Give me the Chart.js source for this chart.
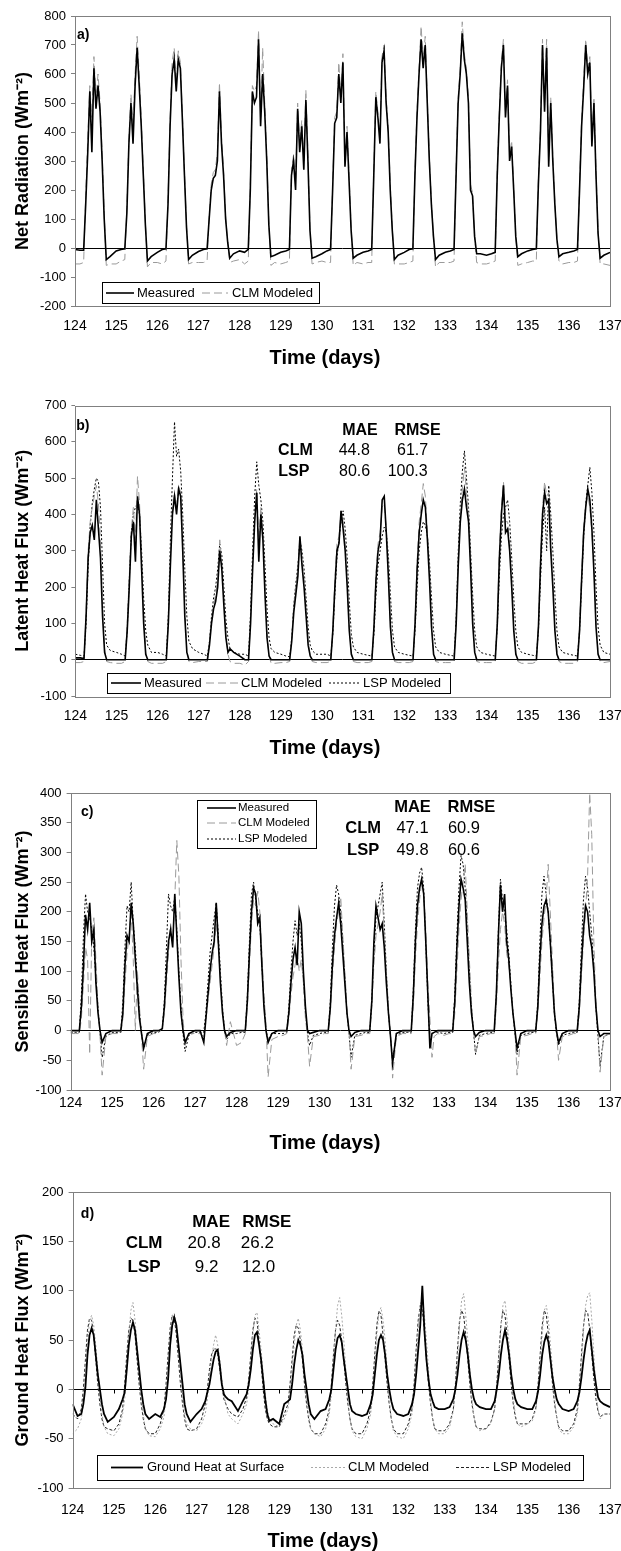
<!DOCTYPE html>
<html>
<head>
<meta charset="utf-8">
<script src="https://cdn.jsdelivr.net/npm/chart.js@4.4.1/dist/chart.umd.min.js"></script>
<style>
  html, body { margin: 0; padding: 0; background: #fff; }
  body { width: 621px; height: 1551px; position: relative; overflow: hidden; }
  .panel { position: absolute; left: 0; width: 621px; }
</style>
</head>
<body>
<div class="panel" style="top:0;height:375px"><canvas id="chartA"></canvas></div>
<div class="panel" style="top:385px;height:385px"><canvas id="chartB"></canvas></div>
<div class="panel" style="top:775px;height:385px"><canvas id="chartC"></canvas></div>
<div class="panel" style="top:1170px;height:381px"><canvas id="chartD"></canvas></div>
<script>
// sampling: each day 124..136, same offsets within the day, plus the end point 137
const days = [124, 125, 126, 127, 128, 129, 130, 131, 132, 133, 134, 135, 136]
const dayOffsets = [0, 0.12, 0.21, 0.26, 0.31, 0.36, 0.41, 0.46, 0.51, 0.56, 0.61, 0.66, 0.71, 0.76, 0.85]
const time = []
days.forEach(d => dayOffsets.forEach(o => time.push(Math.round((d + o) * 100) / 100)))
time.push(137)

// a) Net radiation
const netMeasured = [
  -5,-8,-8,150,330,540,330,620,480,560,470,300,100,-40,-30,
  -10,-5,-3,120,360,500,360,560,690,560,420,250,80,-45,-30,
  -15,-5,-3,150,420,600,650,540,650,620,440,250,70,-40,-25,
  -12,-5,-3,100,200,240,250,300,540,360,250,100,20,-35,-20,
  -10,-15,-5,200,540,500,520,720,420,600,470,300,80,-30,-25,
  -15,-10,-5,250,300,200,480,330,420,270,510,300,60,-35,-30,
  -20,-10,-5,200,430,450,600,500,640,280,400,230,60,-35,-25,
  -15,-10,-5,250,520,450,360,640,680,500,400,200,60,-40,-25,
  -15,-5,-3,250,450,600,720,620,700,500,300,150,40,-40,-25,
  -15,-10,-5,250,500,600,740,650,600,500,200,180,40,-20,-20,
  -25,-20,-15,250,450,620,700,450,560,300,350,200,40,-30,-20,
  -10,-5,-3,220,400,700,470,690,280,500,300,150,30,-30,-20,
  -15,-10,-5,200,420,550,700,600,640,350,500,250,50,-35,-25,
  -15]
const netCLM = [
  -55,-55,-50,180,380,560,450,660,520,600,500,330,120,-60,-55,
  -55,-45,-40,140,380,530,420,600,730,600,450,270,90,-65,-50,
  -50,-55,-45,170,440,640,690,570,680,640,460,260,80,-55,-50,
  -50,-50,-45,110,220,260,270,330,570,380,270,110,20,-50,-45,
  -40,-55,-45,220,560,540,560,750,450,690,500,320,90,-60,-50,
  -55,-50,-45,270,320,230,500,360,440,300,545,330,70,-55,-50,
  -45,-50,-50,220,450,470,640,520,670,300,420,250,70,-60,-50,
  -55,-50,-50,270,540,470,380,660,700,520,420,220,70,-55,-55,
  -55,-50,-45,270,470,620,765,650,730,520,320,160,40,-65,-50,
  -50,-50,-45,270,520,620,780,670,620,520,220,190,40,-50,-55,
  -55,-50,-45,270,470,640,720,470,580,320,370,210,40,-60,-55,
  -50,-45,-45,240,420,720,490,720,300,520,320,160,30,-45,-55,
  -50,-50,-45,220,440,580,720,620,660,370,520,270,60,-55,-55,
  -60]

// b) Latent heat flux
const latMeasured = [
  5,5,3,120,280,350,370,330,440,360,280,120,20,0,0,
  0,0,0,80,200,340,380,270,450,400,250,100,15,0,0,
  0,0,0,100,260,400,450,400,470,450,300,120,20,0,0,
  0,0,0,40,100,140,160,200,300,250,150,60,20,30,20,
  10,0,0,100,250,380,460,270,400,330,180,60,10,0,0,
  0,0,0,50,130,180,230,340,260,200,120,40,10,0,0,
  0,0,0,80,200,300,320,410,360,300,200,80,15,0,0,
  0,0,0,90,220,300,330,440,450,350,230,90,20,0,0,
  0,0,0,100,250,350,400,440,420,330,220,90,15,0,0,
  0,0,0,100,260,380,440,470,420,380,250,100,20,0,0,
  0,0,0,100,280,400,480,350,360,300,200,80,15,0,0,
  0,0,0,90,260,400,460,430,440,300,200,80,15,0,0,
  0,0,0,80,220,350,420,470,440,360,240,90,15,0,0,
  0]
const latCLM = [
  -8,-8,-5,130,300,380,420,450,480,430,330,150,30,-5,-8,
  -10,-10,-5,100,230,360,420,330,505,430,280,120,20,-5,-10,
  -10,-10,-5,110,280,420,460,420,480,460,320,140,25,-5,-8,
  -5,-5,-5,50,110,150,180,220,330,270,170,70,15,-5,-10,
  -10,-15,-5,110,270,400,470,330,420,350,200,70,10,-10,-10,
  -8,-8,-5,60,150,200,250,340,280,220,140,50,10,-5,-8,
  -8,-8,-5,90,220,320,340,410,380,320,220,90,20,-5,-8,
  -8,-8,-5,100,240,320,350,420,430,360,250,100,20,-5,-8,
  -8,-8,-5,110,270,380,430,485,450,350,240,100,20,-5,-8,
  -8,-8,-5,110,280,400,470,530,460,400,270,110,20,-5,-8,
  -8,-8,-5,110,300,420,490,380,380,320,220,90,20,-5,-10,
  -10,-10,-5,100,280,420,490,450,460,320,220,90,20,-5,-10,
  -10,-10,-5,90,240,370,430,450,420,350,250,100,20,-5,-8,
  -5]
const latLSP = [
  15,12,10,100,260,370,430,470,500,490,420,260,100,40,25,
  20,15,10,80,220,350,400,420,430,400,300,170,80,40,20,
  20,15,10,120,330,500,655,560,580,520,400,250,120,50,30,
  20,15,10,50,120,170,200,250,320,290,200,110,60,30,20,
  15,15,10,130,300,450,545,480,440,380,260,140,60,30,20,
  15,10,8,60,150,210,260,330,300,250,170,90,40,25,15,
  15,15,10,70,180,280,330,380,410,360,280,160,70,35,20,
  15,12,10,70,180,260,300,340,365,350,290,180,80,35,20,
  15,12,10,80,200,300,350,380,370,340,270,170,80,35,20,
  15,12,10,120,300,430,520,575,500,420,300,180,80,35,20,
  15,12,10,90,230,340,400,420,440,380,280,170,80,35,20,
  15,12,10,80,220,350,420,300,480,400,300,180,80,35,20,
  15,12,10,80,210,340,430,480,530,460,350,200,90,40,20,
  15]

// c) Sensible heat flux
const senMeasured = [
  0,0,0,40,110,195,170,215,150,170,80,30,0,-20,-5,
  0,0,0,30,110,160,150,215,180,120,70,20,-5,-30,-5,
  0,0,3,40,100,150,170,140,230,160,90,30,0,-20,-5,
  0,0,-20,20,60,100,130,150,215,150,80,30,0,-10,-3,
  0,0,0,50,130,200,240,230,180,190,110,40,0,-20,-5,
  0,0,0,30,80,120,140,110,200,180,100,40,0,-5,-3,
  0,0,0,40,110,160,190,215,180,130,80,30,0,-10,-3,
  0,0,0,50,150,210,190,170,180,140,80,30,-10,-55,-5,
  0,0,0,60,150,210,240,255,230,150,60,-30,-5,-3,0,
  0,0,0,50,140,210,255,240,220,150,80,30,0,-10,-3,
  0,0,0,60,160,245,200,230,150,120,70,30,0,-30,-5,
  0,0,0,40,120,180,210,220,200,150,90,30,0,-20,-5,
  0,0,0,40,110,170,210,200,160,140,100,40,0,-10,-5,
  -5]
const senCLM = [
  -5,-5,-5,20,80,140,120,-40,160,190,120,40,-10,-75,-10,
  -5,-5,-5,20,80,130,160,200,120,0,100,40,-10,-65,-10,
  -5,-5,5,30,80,130,180,150,220,320,260,120,20,-25,-5,
  -5,-5,-10,15,50,80,110,140,180,140,90,40,0,-25,15,
  -25,-20,-5,40,110,180,220,210,235,200,130,60,10,-78,-15,
  -10,-8,-5,20,60,90,110,130,100,120,80,20,-10,-60,-10,
  -8,-5,-5,30,90,140,180,200,225,160,100,40,0,-65,-10,
  -8,-5,-5,40,110,160,180,200,230,160,100,40,0,-80,-10,
  -5,-5,-5,40,120,180,220,250,230,170,80,20,-45,-10,-5,
  -8,-5,-5,30,100,170,220,250,280,200,120,50,0,-40,-10,
  -8,-5,-5,40,110,170,200,180,130,110,80,30,0,-75,-10,
  -8,-5,-5,30,90,150,190,220,280,200,120,40,0,-50,-10,
  -8,-5,-5,30,90,150,200,260,400,330,150,50,0,-70,-10,
  -5]
const senLSP = [
  -3,-3,-3,60,160,230,200,190,170,140,90,40,-5,-45,-10,
  -3,-3,-3,50,140,210,200,250,180,140,80,30,-5,-30,-8,
  -3,-3,3,50,140,230,210,200,225,170,100,40,-5,-35,-8,
  -3,-3,-3,30,80,130,160,190,215,160,100,40,0,-15,-5,
  -5,-3,-3,60,150,230,250,220,200,180,110,50,0,-15,-5,
  -5,-5,-3,40,100,150,185,160,180,150,90,30,-5,-25,-8,
  -5,-3,-3,50,140,210,245,230,200,150,90,30,-5,-45,-8,
  -5,-3,-3,50,130,190,210,230,250,180,100,30,-10,-50,-8,
  -3,-3,-3,70,170,240,265,275,240,150,50,-20,-5,-3,-3,
  -5,-3,-3,60,160,240,295,280,240,170,100,40,0,-40,-8,
  -5,-3,-3,60,170,255,220,200,170,130,80,30,-5,-40,-8,
  -5,-3,-3,50,150,230,260,230,200,150,90,30,-5,-25,-8,
  -5,-3,-3,50,140,220,260,240,200,160,110,40,-10,-60,-10,
  -5]

// d) Ground heat flux
const grdMeasured = [
  -15,-27,-25,-15,2,35,55,62,55,35,15,0,-15,-25,-33,
  -28,-20,-10,-3,20,45,60,68,60,40,20,0,-15,-25,-30,
  -25,-28,-20,-10,10,45,65,73,65,45,25,5,-15,-25,-33,
  -25,-20,-12,-3,5,18,30,38,40,25,5,-5,-8,-10,-12,
  -22,-12,-5,5,20,40,55,58,45,30,10,-10,-25,-32,-30,
  -35,-15,-12,-10,5,25,40,50,45,35,15,0,-15,-25,-30,
  -22,-20,-10,0,20,40,52,55,48,30,15,0,-15,-22,-25,
  -27,-25,-15,-5,15,35,50,55,50,35,15,0,-12,-20,-25,
  -27,-25,-15,-5,15,40,65,105,60,30,10,-5,-12,-18,-20,
  -20,-18,-10,0,15,35,50,58,50,35,15,0,-10,-15,-18,
  -20,-20,-12,0,15,35,50,60,50,35,15,0,-10,-15,-18,
  -20,-20,-12,-2,15,35,48,55,48,30,12,0,-10,-15,-20,
  -22,-20,-12,-3,12,30,45,55,60,40,20,5,-8,-12,-15,
  -18]
const grdCLM = [
  -45,-40,-30,-15,10,45,70,75,65,45,20,-5,-25,-38,-45,
  -47,-40,-25,-10,20,55,80,88,70,45,20,-5,-25,-40,-47,
  -48,-40,-28,-10,20,55,75,77,65,45,20,-5,-25,-35,-40,
  -42,-35,-25,-10,10,30,45,55,45,30,10,-5,-15,-25,-30,
  -35,-25,-15,0,25,55,75,78,60,40,15,-5,-20,-30,-35,
  -38,-30,-20,-5,20,45,65,72,60,40,15,-10,-25,-40,-45,
  -48,-40,-25,-5,25,60,85,93,75,50,20,-10,-30,-42,-48,
  -50,-40,-25,-5,25,55,78,83,70,50,20,-10,-30,-42,-48,
  -50,-40,-25,-5,25,60,85,95,75,50,20,-10,-30,-40,-45,
  -45,-38,-22,0,30,65,90,97,75,50,20,-10,-28,-38,-42,
  -40,-35,-20,0,30,60,85,90,70,45,20,-10,-25,-35,-38,
  -35,-32,-20,0,25,55,80,85,70,45,20,-10,-28,-40,-45,
  -45,-38,-25,-5,25,60,85,95,98,70,35,0,-20,-30,-25,
  -25]
const grdLSP = [
  -25,-30,-20,0,30,60,72,70,55,30,5,-15,-30,-38,-40,
  -42,-35,-20,5,35,60,72,70,55,30,5,-15,-30,-40,-45,
  -45,-35,-20,5,35,62,75,72,55,30,5,-15,-30,-40,-42,
  -40,-30,-15,0,20,35,40,42,35,20,5,-10,-15,-20,-25,
  -28,-20,-8,10,35,60,72,70,50,25,0,-20,-30,-35,-38,
  -38,-25,-15,5,30,55,65,62,50,30,5,-15,-30,-40,-45,
  -45,-35,-20,5,35,60,70,65,50,30,5,-15,-30,-40,-45,
  -45,-35,-20,5,35,65,80,75,55,30,5,-15,-30,-40,-45,
  -45,-35,-20,5,40,70,85,80,60,30,5,-15,-30,-40,-42,
  -42,-35,-20,5,40,70,80,75,55,30,5,-15,-28,-38,-40,
  -40,-33,-20,5,35,65,80,75,55,30,5,-15,-28,-35,-35,
  -35,-30,-18,5,35,65,80,75,55,30,5,-15,-28,-38,-42,
  -42,-35,-20,5,35,65,80,78,60,35,10,-10,-22,-28,-25,
  -25]

const FONT = "'Liberation Sans', Arial, sans-serif"
Chart.defaults.font.family = FONT
Chart.defaults.color = '#000'

const pts = ys => ys.map((y, i) => ({ x: time[i], y: y }))

// frame, panel letter, stats table, legend box and x title
const deco = {
  id: 'deco',
  afterDraw(chart, args, o) {
    const { ctx, chartArea: a, scales } = chart
    ctx.save()
    ctx.strokeStyle = '#808080'
    ctx.lineWidth = 1
    ctx.setLineDash([])
    ctx.strokeRect(Math.round(a.left) + 0.5, Math.round(a.top) + 0.5, Math.round(a.right - a.left), Math.round(a.bottom - a.top))

    // day tick marks on the zero line (panel d)
    if (o.zeroTicks) {
      const y0 = Math.round(scales.y.getPixelForValue(0)) + 0.5
      ctx.strokeStyle = '#000'
      ctx.beginPath()
      days.slice(1).forEach(d => {
        const x = Math.round(scales.x.getPixelForValue(d)) + 0.5
        ctx.moveTo(x, y0)
        ctx.lineTo(x, y0 + 4)
      })
      ctx.stroke()
    }

    ctx.fillStyle = '#000'
    ctx.textBaseline = 'middle'
    o.texts.forEach(t => {
      ctx.font = (t.bold ? 'bold ' : '') + t.size + 'px ' + FONT
      ctx.textAlign = t.align || 'center'
      ctx.fillText(t.t, scales.x.getPixelForValue(t.x), scales.y.getPixelForValue(t.y))
    })

    const lg = o.legend
    ctx.fillStyle = '#fff'
    ctx.fillRect(lg.box[0], lg.box[1], lg.box[2], lg.box[3])
    ctx.strokeStyle = '#000'
    ctx.strokeRect(lg.box[0] + 0.5, lg.box[1] + 0.5, lg.box[2], lg.box[3])
    ctx.font = lg.size + 'px ' + FONT
    ctx.textAlign = 'left'
    lg.items.forEach(it => {
      const ds = chart.data.datasets[it.ds]
      ctx.strokeStyle = ds.borderColor
      ctx.lineWidth = ds.borderWidth
      ctx.setLineDash(ds.borderDash || [])
      ctx.beginPath()
      ctx.moveTo(it.x1, it.y)
      ctx.lineTo(it.x2, it.y)
      ctx.stroke()
      ctx.fillStyle = '#000'
      ctx.fillText(ds.label, it.tx, it.y)
    })

    ctx.setLineDash([])
    ctx.font = 'bold 20px ' + FONT
    ctx.textAlign = 'center'
    ctx.fillText('Time (days)', o.titleX, a.bottom + o.titleDy)
    ctx.restore()
  }
}

function makeChart(id, p) {
  return new Chart(document.getElementById(id), {
    type: 'line',
    data: {
      datasets: p.series.map(s => ({
        label: s.label,
        data: pts(s.values),
        borderColor: s.color,
        borderWidth: s.width,
        borderDash: s.dash,
        pointRadius: 0,
        tension: 0,
        fill: false
      }))
    },
    options: {
      responsive: true,
      maintainAspectRatio: false,
      animation: false,
      layout: { padding: { top: p.padTop, right: 11, left: 0, bottom: 0 } },
      plugins: { legend: { display: false }, tooltip: { enabled: false }, deco: p.deco },
      scales: {
        x: {
          type: 'linear', min: 124, max: 137,
          ticks: { stepSize: 1, autoSkip: false, maxRotation: 0, padding: p.xPad, font: { size: 14 } },
          grid: { display: false, drawTicks: false },
          border: { display: false },
          afterFit: s => { s.height = p.xHeight; s.paddingLeft = 0; s.paddingRight = 0 }
        },
        y: {
          min: p.yMin, max: p.yMax,
          ticks: { stepSize: p.yStep, padding: 5, font: { size: 13 } },
          grid: {
            drawTicks: true, tickLength: 4, tickColor: '#808080',
            color: c => c.tick && c.tick.value === 0 ? '#000' : 'rgba(0,0,0,0)'
          },
          border: { display: false },
          title: { display: true, text: p.yTitle, font: { size: 18, weight: 'bold' }, padding: { top: 12, bottom: 0 } },
          afterFit: s => { s.width = p.yWidth; s.paddingTop = 0; s.paddingBottom = 0 }
        }
      }
    },
    plugins: [deco]
  })
}

const MEAS = { color: '#000', width: 1.6, dash: [] }
const CLMs = { color: '#9a9a9a', width: 1, dash: [8, 4] }
const LSPs = { color: '#000', width: 1, dash: [2, 2] }

makeChart('chartA', {
  padTop: 16, yWidth: 75, xHeight: 69, xPad: 12,
  yMin: -200, yMax: 800, yStep: 100, yTitle: 'Net Radiation (Wm⁻²)',
  series: [
    { label: 'Measured', values: netMeasured, ...MEAS },
    { label: 'CLM Modeled', values: netCLM, ...CLMs }
  ],
  deco: {
    titleX: 325, titleDy: 52,
    texts: [{ t: 'a)', x: 124.05, y: 734, bold: true, size: 14, align: 'left' }],
    legend: {
      box: [102, 282, 217, 21], size: 13,
      items: [{ ds: 0, x1: 106, x2: 134, tx: 137, y: 293 }, { ds: 1, x1: 202, x2: 228, tx: 232, y: 293 }]
    }
  }
})

makeChart('chartB', {
  padTop: 20.5, yWidth: 75.4, xHeight: 74, xPad: 11.5,
  yMin: -100, yMax: 700, yStep: 100, yTitle: 'Latent Heat Flux (Wm⁻²)',
  series: [
    { label: 'Measured', values: latMeasured, ...MEAS },
    { label: 'CLM Modeled', values: latCLM, ...CLMs },
    { label: 'LSP Modeled', values: latLSP, ...LSPs }
  ],
  deco: {
    titleX: 325, titleDy: 52,
    texts: [
      { t: 'b)', x: 124.02, y: 644, bold: true, size: 14, align: 'left' },
      { t: 'MAE', x: 130.92, y: 632, bold: true, size: 16 },
      { t: 'RMSE', x: 132.32, y: 632, bold: true, size: 16 },
      { t: 'CLM', x: 129.35, y: 577, bold: true, size: 16 },
      { t: '44.8', x: 130.78, y: 577, size: 16 },
      { t: '61.7', x: 132.2, y: 577, size: 16 },
      { t: 'LSP', x: 129.31, y: 518, bold: true, size: 16 },
      { t: '80.6', x: 130.79, y: 518, size: 16 },
      { t: '100.3', x: 132.08, y: 518, size: 16 }
    ],
    legend: {
      box: [107, 288, 343, 20], size: 13,
      items: [
        { ds: 0, x1: 111, x2: 141, tx: 144, y: 298 },
        { ds: 1, x1: 206, x2: 238, tx: 241, y: 298 },
        { ds: 2, x1: 329, x2: 359, tx: 363, y: 298 }
      ]
    }
  }
})

makeChart('chartC', {
  padTop: 18, yWidth: 70.6, xHeight: 70, xPad: 4.5,
  yMin: -100, yMax: 400, yStep: 50, yTitle: 'Sensible Heat Flux (Wm⁻²)',
  series: [
    { label: 'Measured', values: senMeasured, ...MEAS },
    { label: 'CLM Modeled', values: senCLM, ...CLMs },
    { label: 'LSP Modeled', values: senLSP, ...LSPs }
  ],
  deco: {
    titleX: 325, titleDy: 53,
    texts: [
      { t: 'c)', x: 124.25, y: 368, bold: true, size: 14, align: 'left' },
      { t: 'MAE', x: 132.24, y: 376, bold: true, size: 16.5 },
      { t: 'RMSE', x: 133.66, y: 376, bold: true, size: 16.5 },
      { t: 'CLM', x: 131.05, y: 341, bold: true, size: 16.5 },
      { t: '47.1', x: 132.24, y: 341, size: 16.5 },
      { t: '60.9', x: 133.48, y: 341, size: 16.5 },
      { t: 'LSP', x: 131.05, y: 304, bold: true, size: 16.5 },
      { t: '49.8', x: 132.24, y: 304, size: 16.5 },
      { t: '60.6', x: 133.48, y: 304, size: 16.5 }
    ],
    legend: {
      box: [197, 25, 119, 48], size: 11.5,
      items: [
        { ds: 0, x1: 207, x2: 236, tx: 238, y: 33 },
        { ds: 1, x1: 207, x2: 236, tx: 238, y: 48 },
        { ds: 2, x1: 207, x2: 236, tx: 238, y: 64 }
      ]
    }
  }
})

makeChart('chartD', {
  padTop: 22, yWidth: 72.6, xHeight: 63, xPad: 13.5,
  yMin: -100, yMax: 200, yStep: 50, yTitle: 'Ground Heat Flux (Wm⁻²)',
  series: [
    { label: 'Ground Heat at Surface', values: grdMeasured, color: '#000', width: 1.8, dash: [] },
    { label: 'CLM Modeled', values: grdCLM, color: '#a8a8a8', width: 1, dash: [2, 2] },
    { label: 'LSP Modeled', values: grdLSP, color: '#222', width: 1, dash: [3, 2] }
  ],
  deco: {
    titleX: 323, titleDy: 53, zeroTicks: true,
    texts: [
      { t: 'd)', x: 124.2, y: 177.7, bold: true, size: 14, align: 'left' },
      { t: 'MAE', x: 127.35, y: 169.6, bold: true, size: 17 },
      { t: 'RMSE', x: 128.7, y: 169.6, bold: true, size: 17 },
      { t: 'CLM', x: 125.73, y: 148.3, bold: true, size: 17 },
      { t: '20.8', x: 127.18, y: 148.3, size: 17 },
      { t: '26.2', x: 128.47, y: 148.3, size: 17 },
      { t: 'LSP', x: 125.73, y: 124, bold: true, size: 17 },
      { t: '9.2', x: 127.24, y: 124, size: 17 },
      { t: '12.0', x: 128.5, y: 124, size: 17 }
    ],
    legend: {
      box: [97, 285, 486, 25], size: 13,
      items: [
        { ds: 0, x1: 111, x2: 143, tx: 147, y: 297.5 },
        { ds: 1, x1: 311, x2: 345, tx: 348, y: 297.5 },
        { ds: 2, x1: 456, x2: 490, tx: 493, y: 297.5 }
      ]
    }
  }
})
</script>
</body>
</html>
